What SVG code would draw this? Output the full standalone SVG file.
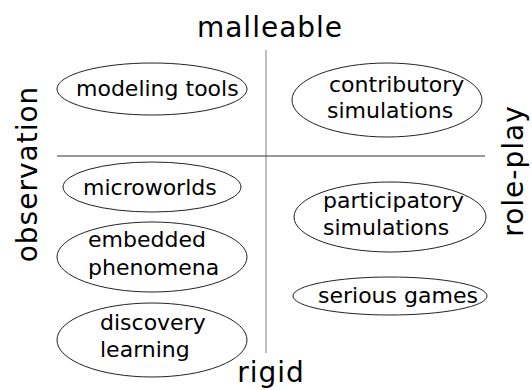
<svg xmlns="http://www.w3.org/2000/svg" width="532" height="390" viewBox="0 0 532 390">
<style>
.axis{font-family:"DejaVu Sans",sans-serif;font-size:28px;fill:#000;letter-spacing:1px}
.lbl{font-family:"DejaVu Sans",sans-serif;font-size:22px;fill:#000}
.node ellipse{fill:none;stroke:#222;stroke-width:1}
</style>
<rect width="532" height="390" fill="#fff"/>
<g id="connectors">
<line x1="266" y1="50" x2="266" y2="353" stroke="#a8a8a8" stroke-width="1.5"/>
<line x1="57" y1="156" x2="485" y2="156" stroke="#333" stroke-width="1"/>
</g>
<g id="axes">
<text class="axis" x="270" y="37" text-anchor="middle">malleable</text>
<text class="axis" x="271" y="382" text-anchor="middle">rigid</text>
<text class="axis" transform="translate(37,174) rotate(-90)" text-anchor="middle">observation</text>
<text class="axis" transform="translate(523,171) rotate(-90)" text-anchor="middle">role-play</text>
</g>
<g id="modeling-tools" class="node">
<ellipse cx="152" cy="89" rx="95" ry="26"/>
<text class="lbl" x="76" y="96">modeling tools</text>
</g>
<g id="contributory-simulations" class="node">
<ellipse cx="387" cy="100" rx="95" ry="37"/>
<text class="lbl" x="329" y="92">contributory</text>
<text class="lbl" x="327" y="118">simulations</text>
</g>
<g id="microworlds" class="node">
<ellipse cx="152" cy="187" rx="89" ry="25"/>
<text class="lbl" x="83" y="195">microworlds</text>
</g>
<g id="participatory-simulations" class="node">
<ellipse cx="390" cy="217" rx="96" ry="35"/>
<text class="lbl" x="323" y="208">participatory</text>
<text class="lbl" x="323" y="235">simulations</text>
</g>
<g id="embedded-phenomena" class="node">
<ellipse cx="152" cy="257" rx="95" ry="35"/>
<text class="lbl" x="88" y="247">embedded</text>
<text class="lbl" x="88" y="275">phenomena</text>
</g>
<g id="serious-games" class="node">
<ellipse cx="390" cy="296" rx="97" ry="19"/>
<text class="lbl" x="318" y="303">serious games</text>
</g>
<g id="discovery-learning" class="node">
<ellipse cx="152" cy="340" rx="95" ry="37"/>
<text class="lbl" x="100" y="330">discovery</text>
<text class="lbl" x="100" y="357">learning</text>
</g>
</svg>
